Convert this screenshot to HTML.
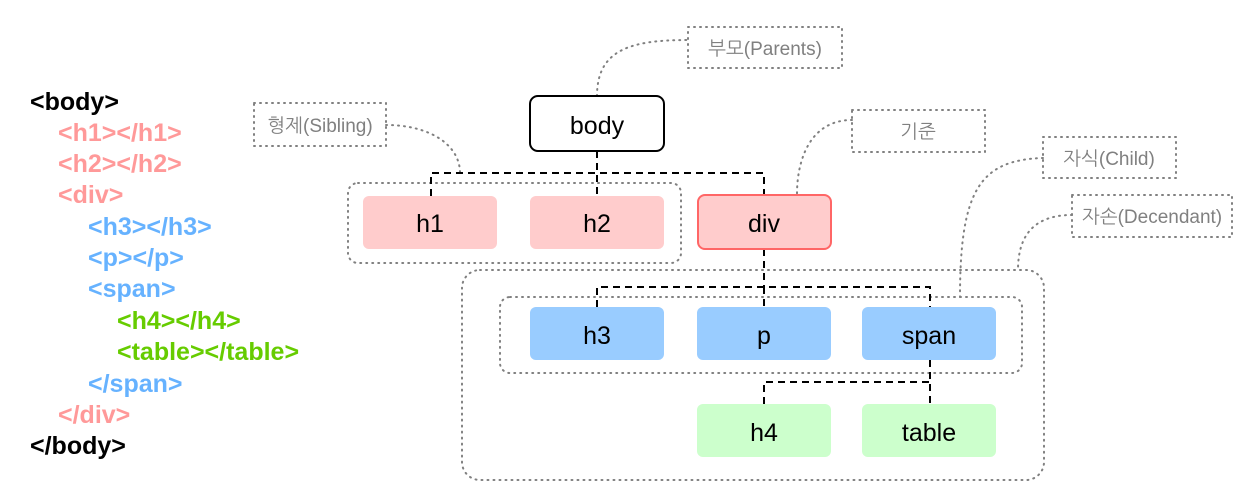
<!DOCTYPE html>
<html><head><meta charset="utf-8"><style>
body{margin:0;background:#fff;width:1255px;height:499px;overflow:hidden}
svg{display:block}
.code{font:bold 25px "Liberation Sans",sans-serif}
.node{font:25px "Liberation Sans",sans-serif}
.lbl{font:19px "Liberation Sans","NanumGothic",sans-serif;fill:#808080}
</style></head><body>
<svg width="1255" height="499">
<g class="code">
<text x="30" y="110" fill="#000">&lt;body&gt;</text>
<text x="58" y="141" fill="#ff9999">&lt;h1&gt;&lt;/h1&gt;</text>
<text x="58" y="172" fill="#ff9999">&lt;h2&gt;&lt;/h2&gt;</text>
<text x="58" y="203" fill="#ff9999">&lt;div&gt;</text>
<text x="88" y="235" fill="#66b2ff">&lt;h3&gt;&lt;/h3&gt;</text>
<text x="88" y="266" fill="#66b2ff">&lt;p&gt;&lt;/p&gt;</text>
<text x="88" y="297" fill="#66b2ff">&lt;span&gt;</text>
<text x="117" y="329" fill="#66cc00">&lt;h4&gt;&lt;/h4&gt;</text>
<text x="117" y="360" fill="#66cc00">&lt;table&gt;&lt;/table&gt;</text>
<text x="88" y="392" fill="#66b2ff">&lt;/span&gt;</text>
<text x="58" y="423" fill="#ff9999">&lt;/div&gt;</text>
<text x="30" y="454" fill="#000">&lt;/body&gt;</text>
</g>
<g fill="none" stroke="#808080" stroke-width="2" stroke-dasharray="1 5" stroke-linecap="round">
<rect x="348" y="183" width="333" height="80" rx="10"/>
<rect x="462" y="270" width="582" height="210" rx="18"/>
<rect x="500" y="297" width="522" height="76" rx="10"/>
<rect x="688" y="27" width="154" height="41"/>
<rect x="254" y="103" width="132" height="43"/>
<rect x="852" y="110" width="133" height="42"/>
<rect x="1043" y="137" width="133" height="41"/>
<rect x="1072" y="195" width="160" height="42"/>
<path d="M597 96 C597 50 630 40 688 40"/>
<path d="M386 125 C430 125 460 145 460 173"/>
<path d="M852 120 C810 120 797 160 797 194"/>
<path d="M1043 158 C980 160 960 190 960 297"/>
<path d="M1072 215 C1030 215 1018 240 1018 270"/>
</g>
<g fill="none" stroke="#000" stroke-width="2" stroke-dasharray="7 5">
<path d="M597 151 V196 M431 196 V173 H764 V194"/>
<path d="M764 249 V287 M597 307 V287 H930 V307 M764 287 V307"/>
<path d="M930 360 V404 M764 404 V382 H930"/>
</g>
<g class="node" text-anchor="middle">
<rect x="530" y="96" width="134" height="55" rx="8" fill="#fff" stroke="#000" stroke-width="2"/>
<text x="597" y="134">body</text>
<rect x="363" y="196" width="134" height="53" rx="6" fill="#ffcccc"/>
<text x="430" y="232">h1</text>
<rect x="530" y="196" width="134" height="53" rx="6" fill="#ffcccc"/>
<text x="597" y="232">h2</text>
<rect x="698" y="195" width="133" height="54" rx="7" fill="#ffcccc" stroke="#ff6666" stroke-width="2"/>
<text x="764" y="232">div</text>
<rect x="530" y="307" width="134" height="53" rx="6" fill="#99ccff"/>
<text x="597" y="344">h3</text>
<rect x="697" y="307" width="134" height="53" rx="6" fill="#99ccff"/>
<text x="764" y="344">p</text>
<rect x="862" y="307" width="134" height="53" rx="6" fill="#99ccff"/>
<text x="929" y="344">span</text>
<rect x="697" y="404" width="134" height="53" rx="6" fill="#ccffcc"/>
<text x="764" y="441">h4</text>
<rect x="862" y="404" width="134" height="53" rx="6" fill="#ccffcc"/>
<text x="929" y="441">table</text>
</g>
<g class="lbl" text-anchor="middle">
<text x="765" y="55">부모(Parents)</text>
<text x="320" y="132">형제(Sibling)</text>
<text x="918" y="138">기준</text>
<text x="1109" y="165">자식(Child)</text>
<text x="1152" y="223">자손(Decendant)</text>
</g>
</svg>
</body></html>
